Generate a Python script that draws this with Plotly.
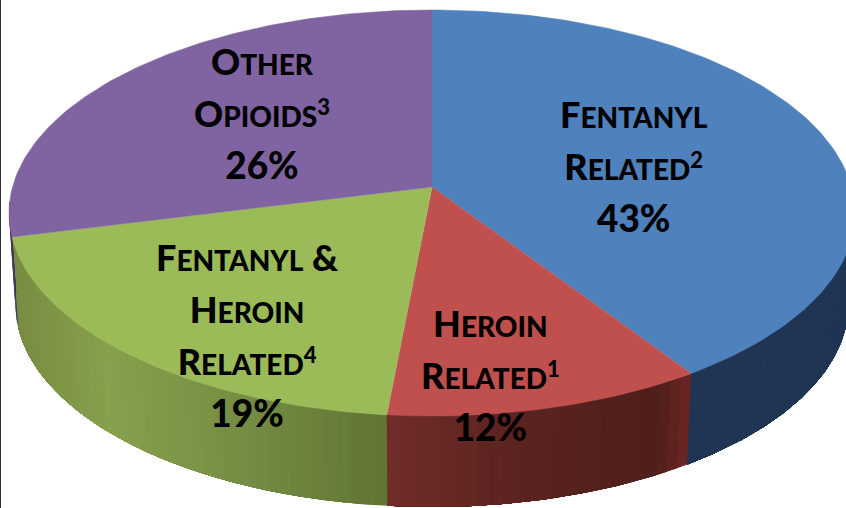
import math
import plotly.graph_objects as go

# Slices, clockwise from 12 o'clock. Printed percentages and the drawn sweep (as measured on the picture)
categories = ["Fentanyl Related", "Heroin Related", "Fentanyl & Heroin Related", "Other Opioids"]
printed_percent = [43, 12, 19, 26]
drawn_sweep = [40.7, 10.8, 19.6, 28.9]

label_lines = [
    [("F", "ENTANYL", "", ""), ("R", "ELATED", "", "2")],
    [("H", "EROIN", "", ""), ("R", "ELATED", "", "1")],
    [("F", "ENTANYL", " &amp;", ""), ("H", "EROIN", "", ""), ("R", "ELATED", "", "4")],
    [("O", "THER", "", ""), ("O", "PIOIDS", "", "3")],
]
label_xy = [(634, 166), (490, 375), (247, 335), (262, 113)]

top_colors = ["#4f81bd", "#c0504d", "#9bbb59", "#8064a2"]
side_stops = [
    [(0, (31, 53, 83)), (1, (31, 53, 83))],
    [(0, (112, 44, 42)), (0.4, (92, 35, 32)), (0.9, (78, 31, 27)), (1, (110, 38, 36))],
    [(0, (120, 140, 66)), (0.25, (134, 160, 76)), (0.6, (118, 142, 68)), (1, (96, 116, 52))],
    [(0, (70, 55, 90)), (1, (70, 55, 90))],
]

CX, CY, A, C, B = 432, 187, 199.7, 419.5, 0.128
DEPTH, BOTTOM_SCALE = 91, 0.985


def rim(theta, bottom=False):
    u, v = math.sin(theta), -math.cos(theta)
    k = 1 - B * v
    x, y = C * u / k, A * v / k
    if bottom:
        return CX + BOTTOM_SCALE * x, CY + y + DEPTH
    return CX + x, CY + y


def blend(stops, t):
    for (t0, c0), (t1, c1) in zip(stops, stops[1:]):
        if t <= t1:
            f = (t - t0) / (t1 - t0) if t1 > t0 else 0
            return "rgb(%d,%d,%d)" % tuple(round(a + (b - a) * f) for a, b in zip(c0, c1))
    return "rgb(%d,%d,%d)" % stops[-1][1]


def arc(t0, t1, n, bottom=False):
    return [rim(t0 + (t1 - t0) * i / n, bottom) for i in range(n + 1)]


fig = go.Figure()


def poly(points, color, line=0.5):
    fig.add_trace(go.Scatter(
        x=[p[0] for p in points], y=[p[1] for p in points], mode="lines", fill="toself",
        fillcolor=color, line=dict(color=color, width=line), hoverinfo="skip", showlegend=False))


total = sum(drawn_sweep)
edges = [0.0]
for s in drawn_sweep:
    edges.append(edges[-1] + s / total * 2 * math.pi)

vis0, vis1 = math.radians(90), math.radians(266)

# side wall: overlapping strips painted from the far end, so no seams show
for i in range(4):
    t0, t1 = max(edges[i], vis0), min(edges[i + 1], vis1)
    if t1 <= t0:
        continue
    n = max(2, int((t1 - t0) / math.radians(1.5)))
    for j in range(n):
        a = t0 + (t1 - t0) * j / n
        b = t0 + (t1 - t0) * (j + 1) / n
        x_a, x_b = rim(t0)[0], rim(t1)[0]
        f = (rim((a + b) / 2)[0] - min(x_a, x_b)) / max(abs(x_b - x_a), 1)
        poly(arc(a, t1, 3 * (n - j)) + arc(a, t1, 3 * (n - j), True)[::-1], blend(side_stops[i], f), 0)

# top face
for i in range(4):
    n = max(8, int((edges[i + 1] - edges[i]) / math.radians(1)))
    poly([(CX, CY)] + arc(edges[i], edges[i + 1], n), top_colors[i], 0.5)


def small_caps(big, rest, amp, sup):
    s = f'<span style="font-size:36px">{big}</span><span style="font-size:28px">{rest}</span>'
    if amp:
        s += f'<span style="font-size:36px">{amp}</span>'
    if sup:
        s += f'<span style="font-size:22px;baseline-shift:12px">{sup}</span>'
    return s


for lines, pct, (x, y) in zip(label_lines, printed_percent, label_xy):
    text = "<br>".join(small_caps(*l) for l in lines)
    text += f'<br><span style="font-size:37px">{pct}%</span>'
    fig.add_annotation(x=x, y=y, xref="x", yref="y", text=f"<b>{text}</b>", showarrow=False,
                       align="center", font=dict(family="Lato Black, Lato", size=40, color="#000000"))

fig.update_layout(
    width=846, height=508, margin=dict(l=0, r=0, t=0, b=0),
    paper_bgcolor="#ffffff", plot_bgcolor="#ffffff", showlegend=False,
    xaxis=dict(range=[0, 846], visible=False, fixedrange=True),
    yaxis=dict(range=[508, 0], visible=False, fixedrange=True),
    shapes=[dict(type="line", xref="x", yref="y", x0=0.5, x1=0.5, y0=0, y1=508,
                 line=dict(color="#333333", width=1))],
)
fig.write_html("out.html", config={"displayModeBar": False},
               post_script="document.body.style.margin='0';document.documentElement.style.overflow='hidden';")
